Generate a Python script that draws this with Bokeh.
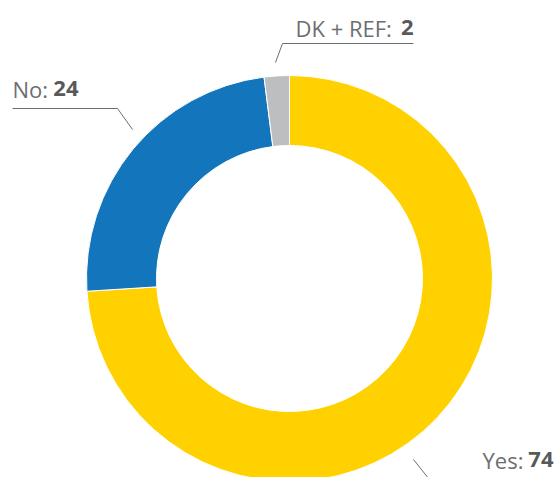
import math
from bokeh.plotting import figure
from bokeh.models import Range1d
from bokeh.core.properties import value
from bokeh.embed import file_html
from bokeh.resources import INLINE

# ---- data ----
categories = ["Yes", "No", "DK + REF"]
values = [74, 24, 2]
colors = ["#FFD100", "#1375BB", "#BCBEC0"]

W, H = 555, 477

def sx(x):
    return x

def sy(y):
    return H - y

p = figure(width=W, height=H, x_range=Range1d(0, W), y_range=Range1d(0, H),
           output_backend="svg", toolbar_location=None, min_border=0,
           background_fill_color="white", border_fill_color="white")
p.axis.visible = False
p.grid.visible = False
p.outline_line_color = None

cx, cy = sx(289), sy(278)
r_out, r_in = 203, 133

total = sum(values)
start = math.pi / 2
starts, ends = [], []
for v in values:
    a = 2 * math.pi * v / total
    starts.append(start)
    ends.append(start - a)
    start -= a

p.annular_wedge(x=[cx] * len(values), y=[cy] * len(values), inner_radius=r_in, outer_radius=r_out,
                start_angle=starts, end_angle=ends, direction="clock",
                fill_color=colors, line_color="white", line_width=1)

txt_col = "#6D6E71"
num_col = "#58595B"
font = value("Open Sans")
fs = "22px"

# leader lines
p.line([sx(12), sx(117), sx(132)], [sy(108), sy(108), sy(129)], line_color=txt_col, line_width=1)
p.line([sx(275), sx(282), sx(413)], [sy(62), sy(43), sy(43)], line_color=txt_col, line_width=1)
p.line([sx(413), sx(432)], [sy(459), sy(483)], line_color=txt_col, line_width=1)

# labels: (category, value, label left x, number right x, baseline y)
label_pos = {"No": (12, 78, 88), "DK + REF": (295, 413, 27), "Yes": (482, 553, 459)}
for cat, v in zip(categories, values):
    lx, rx, by = label_pos[cat]
    p.text(x=[sx(lx)], y=[sy(by)], text=[cat + ":"], text_font=font, text_font_size=fs,
           text_color=txt_col, text_align="left", text_baseline="alphabetic")
    p.text(x=[sx(rx)], y=[sy(by)], text=[str(v)], text_font=font, text_font_size=fs,
           text_font_style="bold", text_color=num_col, text_align="right", text_baseline="alphabetic")

open("out.html", "w").write(file_html(p, INLINE))
